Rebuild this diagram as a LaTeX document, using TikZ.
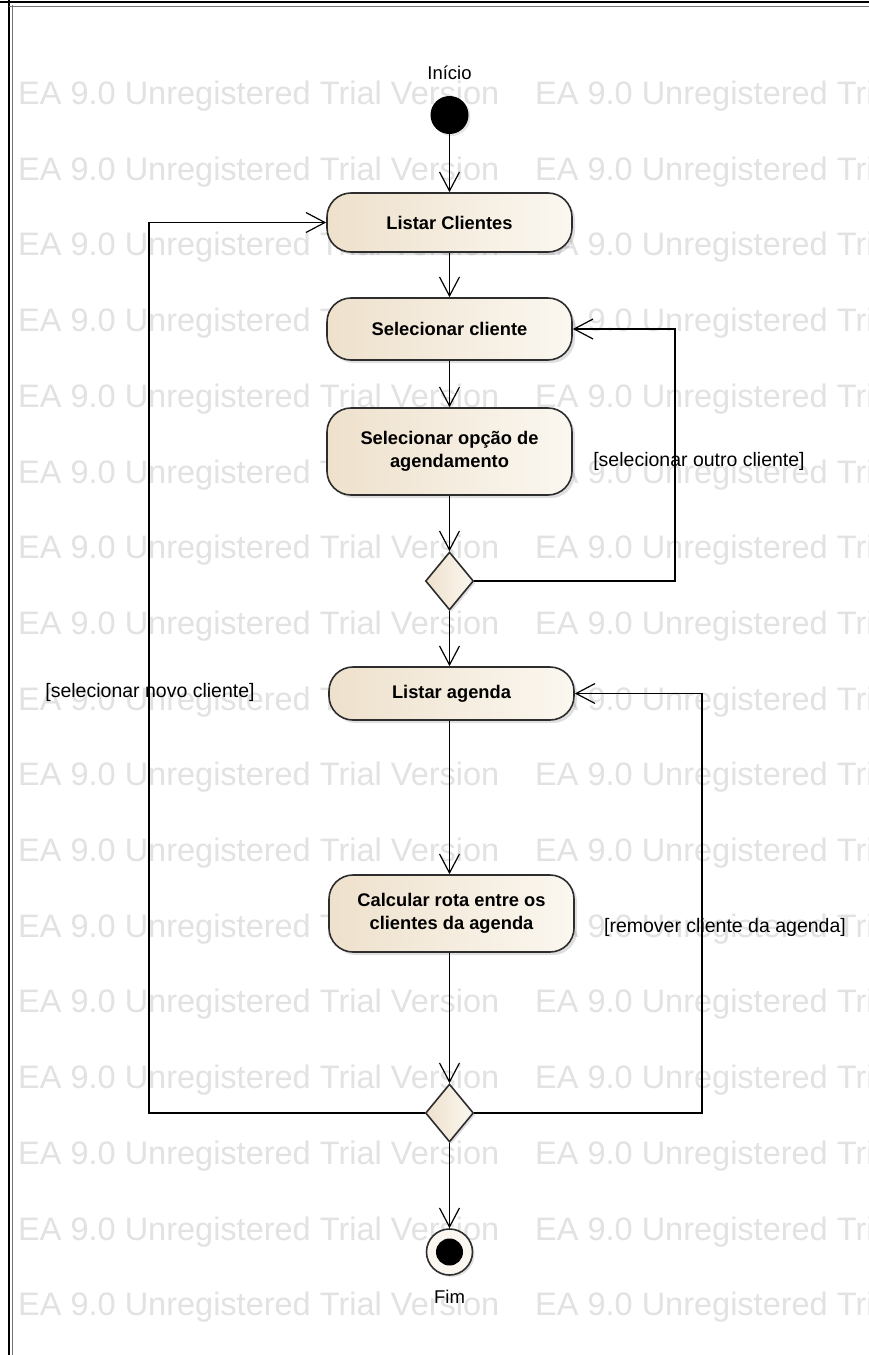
\documentclass[tikz,border=0pt]{standalone}
\usepackage{fontspec}
\setmainfont{Liberation Sans}
\usetikzlibrary{arrows.meta,shapes.geometric,shadows,calc}

\definecolor{actleft}{RGB}{238,225,204}
\definecolor{actright}{RGB}{251,247,240}
\definecolor{edge}{RGB}{45,45,45}
\definecolor{wmark}{RGB}{226,226,226}

\tikzset{
  action/.style={rounded corners=24pt, draw=edge, line width=1.6pt,
    left color=actleft, right color=actright, minimum width=245pt,
    align=center, inner sep=0pt,
    font=\bfseries\fontsize{18.3}{23}\selectfont,
    drop shadow={shadow xshift=3pt, shadow yshift=-3pt, opacity=0.25}},
  decision/.style={diamond, aspect=0.83, draw=edge, line width=1.6pt,
    left color=actleft, right color=actright, minimum width=48pt, minimum height=58pt,
    inner sep=0pt,
    drop shadow={shadow xshift=2pt, shadow yshift=-2pt, opacity=0.25}},
  flow/.style={draw=black, line width=1.2pt,
    -{Straight Barb[length=19pt,width=20pt,line width=1.2pt]}},
  guard/.style={font=\fontsize{19.5}{22}\selectfont, inner sep=0pt},
  caption/.style={font=\fontsize{18.5}{20}\selectfont, inner sep=0pt},
  watermark/.style={text=wmark, font=\fontsize{32.5}{36}\selectfont,
    anchor=base west, inner sep=0pt}
}

\begin{document}
\begin{tikzpicture}[x=1pt, y=-1pt]
  % page
  \useasboundingbox (0,0) rectangle (869,1355);
  \fill[white] (0,0) rectangle (869,1355);

  % evaluation watermark rows
  \begin{scope}
    \clip (0,0) rectangle (869,1355);
    \foreach \k in {0,...,16} {
      \node[watermark] at (18,104.5+75.7*\k) {EA 9.0 Unregistered Trial Version};
      \node[watermark] at (535,104.5+75.7*\k) {EA 9.0 Unregistered Trial Version};
    }
  \end{scope}

  % frame edges
  \draw[line width=2pt, black] (9,0) -- (9,1355);
  \draw[line width=1pt, black!55] (12.5,5) -- (12.5,1355);
  \draw[line width=2pt, black] (0,2) -- (869,2);
  \draw[line width=1pt, black!55] (9,6) -- (869,6);

  % initial and final states
  \node[circle, fill=black, minimum size=38pt, inner sep=0pt,
    drop shadow={shadow xshift=2pt, shadow yshift=-2pt, opacity=0.2}] (start) at (449.5,115) {};
  \node[caption] (startlbl) at (449.5,73) {Início};

  % activities
  \node[action, minimum height=59pt] (lc) at (449.5,222.5) {Listar Clientes};
  \node[action, minimum height=62pt] (sc) at (449.5,329) {Selecionar cliente};
  \node[action, minimum height=87pt] (so) at (449.5,451.5) {Selecionar opção de\\agendamento};
  \node[decision] (d1) at (449.5,581) {};
  \node[action, minimum height=53pt] (la) at (451.5,693.5) {Listar agenda};
  \node[action, minimum height=77pt] (cr) at (451.5,913.5) {Calcular rota entre os\\clientes da agenda};
  \node[decision] (d2) at (449.5,1113) {};

  \node[circle, draw=edge, line width=1.6pt, fill=actright, minimum size=46pt, inner sep=0pt,
    drop shadow={shadow xshift=2pt, shadow yshift=-2pt, opacity=0.25}] (end) at (449.5,1252) {};
  \node[circle, fill=black, minimum size=27pt, inner sep=0pt] (endcore) at (end.center) {};
  \node[caption] (endlbl) at (449.5,1297) {Fim};

  % main flow
  \draw[flow] (start) -- (lc);
  \draw[flow] (lc) -- (sc);
  \draw[flow] (sc) -- (so);
  \draw[flow] (so) -- (d1);
  \draw[flow] (d1) -- (d1 |- la.north);
  \draw[flow] (la.south -| d1.south) -- (cr.north -| d1.south);
  \draw[flow] (cr.south -| d2.north) -- (d2.north);
  \draw[flow] (d2) -- (end);

  % loops back from the decisions
  \coordinate (outerright) at (675,0);
  \coordinate (farright) at (702,0);
  \coordinate (farleft) at (149,0);
  \draw[flow] (d1.east) -| (outerright |- sc.east) -- (sc.east);
  \draw[flow] (d2.east) -| (farright |- la.east) -- (la.east);
  \draw[flow] (d2.west) -| (farleft |- lc.west) -- (lc.west);

  % guards
  \node[guard] (g1) at (699,461) {[selecionar outro cliente]};
  \node[guard] (g2) at (150,692) {[selecionar novo cliente]};
  \node[guard] (g3) at (725,927) {[remover cliente da agenda]};
\end{tikzpicture}
\end{document}
